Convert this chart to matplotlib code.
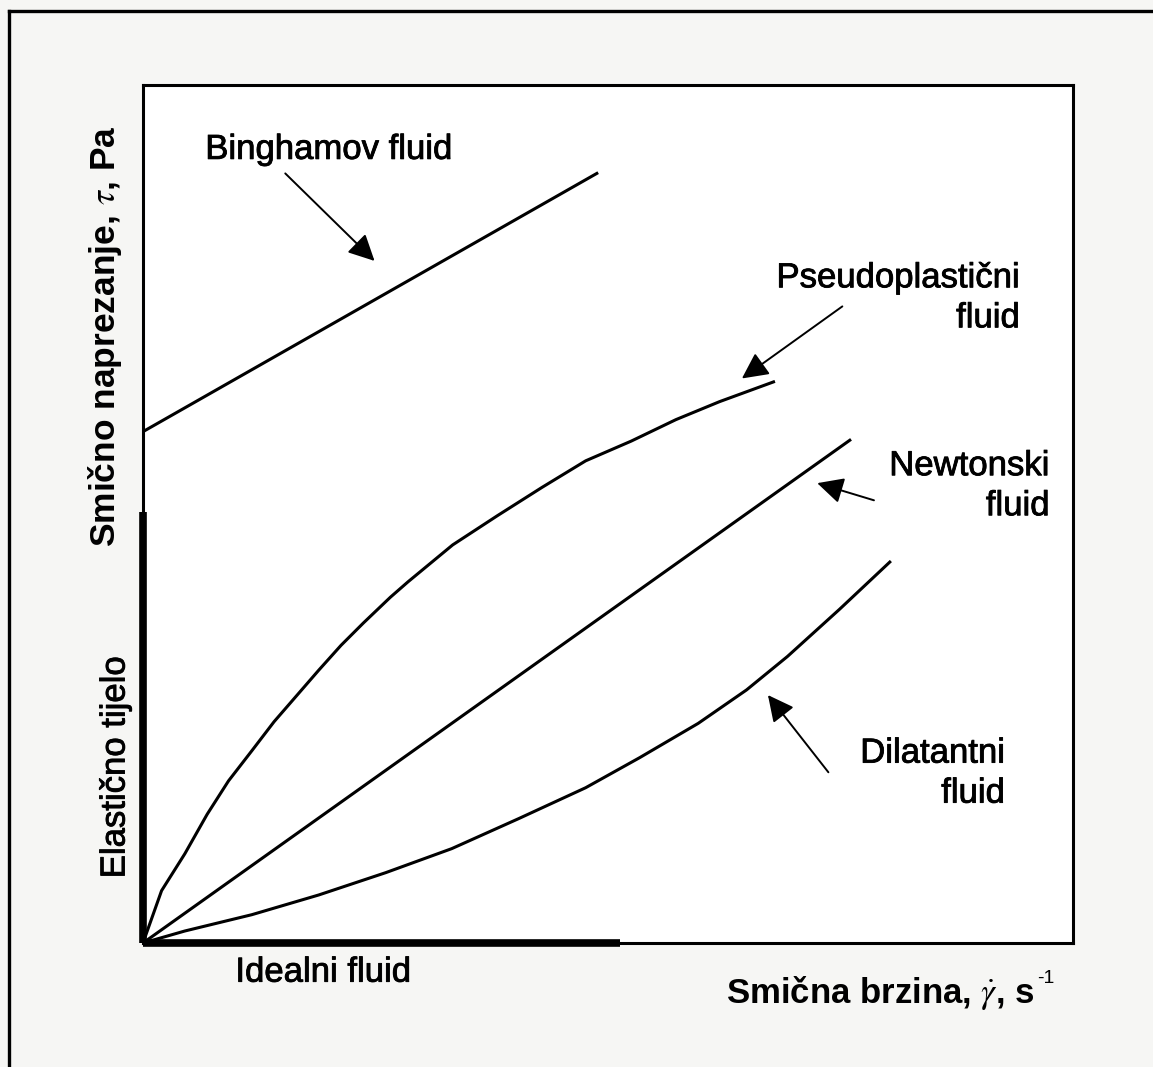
import matplotlib.pyplot as plt
import matplotlib.patheffects as pe
from matplotlib.lines import Line2D

plt.rcParams['font.family'] = ['Liberation Sans', 'DejaVu Sans']
plt.rcParams['mathtext.fontset'] = 'stix'

# Dati (unita' arbitrarie, asse 0-10)
bingham_x = [0.0, 4.88]
bingham_y = [5.96, 8.97]

pseudo_x = [0.0, 0.20, 0.45, 0.69, 0.92, 1.17, 1.41, 1.65, 1.89, 2.13, 2.37, 2.66,
            2.85, 3.33, 3.81, 4.29, 4.76, 5.25, 5.73, 6.20, 6.78]
pseudo_y = [0.0, 0.61, 1.04, 1.50, 1.89, 2.24, 2.58, 2.88, 3.18, 3.47, 3.73, 4.03,
            4.21, 4.64, 4.98, 5.31, 5.62, 5.85, 6.10, 6.31, 6.54]

newton_x = [0.0, 7.60]
newton_y = [0.0, 5.86]

dilat_x = [0.0, 0.45, 1.17, 1.89, 2.61, 3.32, 4.04, 4.76, 5.34, 5.97, 6.49, 6.93, 7.49, 8.03]
dilat_y = [0.0, 0.14, 0.33, 0.56, 0.82, 1.10, 1.45, 1.81, 2.16, 2.56, 2.95, 3.34, 3.89, 4.44]

elastic_y = [0.0, 5.02]   # corpo elastico (asse y)
ideal_x = [0.0, 5.13]     # fluido ideale (asse x)

fig = plt.figure(figsize=(11.53, 10.67), dpi=100)
fig.patch.set_facecolor('#f6f6f4')
ax = fig.add_axes([0.124, 0.1162, 0.8066, 0.8041])
ax.set_facecolor('white')
ax.set_xlim(0, 10)
ax.set_ylim(0, 10)
ax.set_xticks([])
ax.set_yticks([])
for s in ax.spines.values():
    s.set_linewidth(2.2)

lw = 2.2
ax.plot(bingham_x, bingham_y, color='k', lw=lw)
ax.plot(pseudo_x, pseudo_y, color='k', lw=lw, solid_joinstyle='round')
ax.plot(newton_x, newton_y, color='k', lw=lw)
ax.plot(dilat_x, dilat_y, color='k', lw=lw, solid_joinstyle='round')
ax.plot([0, 0], elastic_y, color='k', lw=5.5, clip_on=False, solid_capstyle='butt')
ax.plot(ideal_x, [0, 0], color='k', lw=5.5, clip_on=False, solid_capstyle='butt')

# Etichette con frecce
arrow = dict(arrowstyle='-|>', mutation_scale=40, lw=1.4, color='k', shrinkA=0, shrinkB=0)
fs = 25
heavy = [pe.withStroke(linewidth=0.6, foreground='k')]
ax.text(0.67, 9.25, 'Binghamov fluid', fontsize=fs, ha='left', va='center', path_effects=heavy)
ax.annotate('', xy=(2.49, 7.95), xytext=(1.53, 8.97), arrowprops=arrow)

ax.text(9.43, 7.52, 'Pseudoplastični\nfluid', fontsize=fs, ha='right', va='center',
        multialignment='right', linespacing=1.27, path_effects=heavy)
ax.annotate('', xy=(6.44, 6.58), xytext=(7.52, 7.42), arrowprops=arrow)

ax.text(9.75, 5.33, 'Newtonski\nfluid', fontsize=fs, ha='right', va='center',
        multialignment='right', linespacing=1.27, path_effects=heavy)
ax.annotate('', xy=(7.25, 5.36), xytext=(7.86, 5.16), arrowprops=arrow)

ax.text(9.27, 1.98, 'Dilatantni\nfluid', fontsize=fs, ha='right', va='center',
        multialignment='right', linespacing=1.27, path_effects=heavy)
ax.annotate('', xy=(6.72, 2.89), xytext=(7.37, 1.99), arrowprops=arrow)

ax.text(1.94, -0.34, 'Idealni fluid', fontsize=fs, ha='center', va='center', clip_on=False,
        path_effects=heavy)
ax.text(-0.30, 2.05, 'Elastično tijelo', fontsize=fs, ha='center', va='center',
        rotation=90, clip_on=False, path_effects=heavy)

# Titoli degli assi
xl = ax.text(6.27, -0.58, r'Smična brzina, $\dot{\gamma}$, s', fontsize=fs,
             fontweight='bold', ha='left', va='center', clip_on=False)
ax.annotate('-1', xy=(1, 1), xycoords=xl, xytext=(2, 3), textcoords='offset points',
            fontsize=14, ha='left', va='top', annotation_clip=False)
ax.text(-0.41, 7.07, r'Smično naprezanje, $\tau$, Pa', fontsize=25.5, fontweight='bold',
        ha='center', va='center', rotation=90, clip_on=False)

# Cornice esterna
bx = 9 / 1153
by = 1 - 11 / 1067
fig.add_artist(Line2D([bx, bx], [0, by], color='k', lw=2.4, transform=fig.transFigure))
fig.add_artist(Line2D([bx, 1], [by, by], color='k', lw=2.4, transform=fig.transFigure))

fig.savefig('out.png', dpi=100, facecolor=fig.get_facecolor())
